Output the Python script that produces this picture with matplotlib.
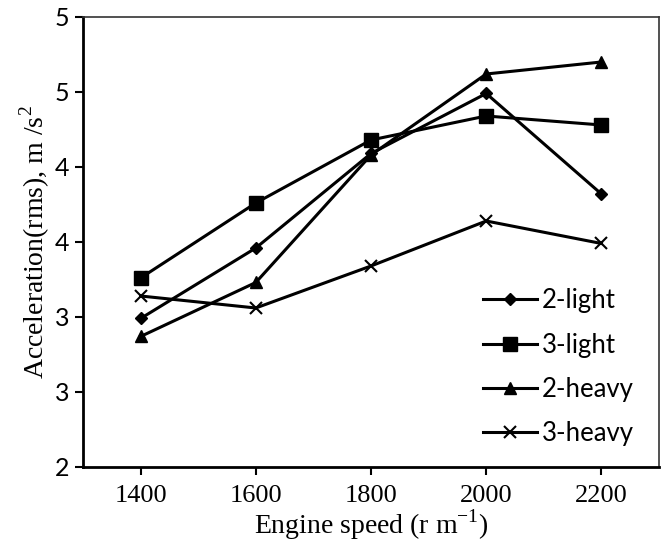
import matplotlib
matplotlib.use('Agg')
import matplotlib.pyplot as plt
from matplotlib.ticker import FixedLocator, FixedFormatter

# engine speed categories
speeds = [1400, 1600, 1800, 2000, 2200]

# acceleration (rms), m/s^2
light_2 = [2.99, 3.46, 4.09, 4.49, 3.82]
light_3 = [3.26, 3.76, 4.18, 4.34, 4.28]
heavy_2 = [2.87, 3.23, 4.08, 4.62, 4.70]
heavy_3 = [3.14, 3.06, 3.34, 3.64, 3.49]

y_ticks = [2, 2.5, 3, 3.5, 4, 4.5, 5]
# labels as shown (rounded to whole numbers)
y_labels = ['2', '3', '3', '4', '4', '5', '5']

fig = plt.figure(figsize=(6.65, 5.41), dpi=100)
ax = fig.add_axes([0.1248, 0.1368, 0.9910 - 0.1248, 0.9686 - 0.1368])

lw = 2.2
ax.plot(speeds, light_2, color='black', linewidth=lw, marker='D', markersize=6.5, label='2-light')
ax.plot(speeds, light_3, color='black', linewidth=lw, marker='s', markersize=9.5, label='3-light')
ax.plot(speeds, heavy_2, color='black', linewidth=lw, marker='^', markersize=9, label='2-heavy')
ax.plot(speeds, heavy_3, color='black', linewidth=lw, marker='x', markersize=8, markeredgewidth=1.5, label='3-heavy')

ax.set_xlim(1300, 2300)
ax.set_ylim(2, 5)
ax.set_xticks(speeds)
ax.set_xticklabels([str(s) for s in speeds], fontfamily='Liberation Serif', fontsize=19)
ax.yaxis.set_major_locator(FixedLocator(y_ticks))
ax.yaxis.set_major_formatter(FixedFormatter(y_labels))
for t in ax.get_yticklabels():
    t.set_fontfamily('Lato')
    t.set_fontsize(18)

ax.tick_params(axis='both', direction='out', length=6, width=1.5, color='black')
ax.tick_params(axis='x', pad=7)
ax.tick_params(axis='y', pad=4)

ax.spines['left'].set_linewidth(2)
ax.spines['bottom'].set_linewidth(2)
ax.spines['top'].set_linewidth(1.2)
ax.spines['right'].set_linewidth(1.2)
ax.spines['top'].set_color('#333333')
ax.spines['right'].set_color('#333333')

ax.set_xlabel('Engine speed (r m$^{\\mathregular{-1}}$)', fontfamily='Liberation Serif', fontsize=20, labelpad=0)
ax.set_ylabel('Acceleration(rms), m /s$^{\\mathregular{2}}$', fontfamily='Liberation Serif', fontsize=20, labelpad=2)

leg = ax.legend(loc='lower right', bbox_to_anchor=(0.997, -0.005), frameon=False,
                prop={'family': 'Lato', 'size': 18.5}, handlelength=2.1, handletextpad=0.2,
                labelspacing=0.75)

fig.savefig('out.png', dpi=100)
